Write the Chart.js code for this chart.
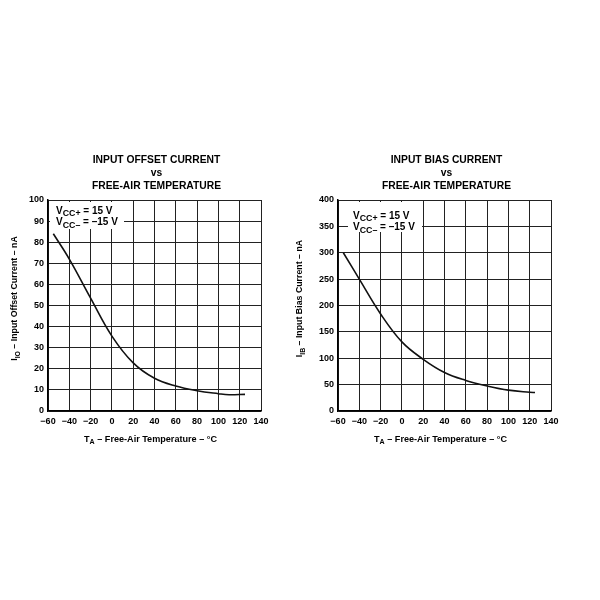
<!DOCTYPE html>
<html>
<head>
<meta charset="utf-8">
<script src="https://cdn.jsdelivr.net/npm/chart.js@4.4.1/dist/chart.umd.min.js"></script>
<style>
  body { margin: 0; background: #fff; }
  #wrap { position: relative; width: 600px; height: 600px; }
  .panel { position: absolute; top: 140px; width: 300px; height: 320px; }
</style>
</head>
<body>
<div id="wrap">
  <div class="panel" style="left:0"><canvas id="chart-offset" width="300" height="320"></canvas></div>
  <div class="panel" style="left:290px"><canvas id="chart-bias" width="300" height="320"></canvas></div>
</div>
<script>
// temperature axis (°C)
const tempTicks = [-60, -40, -20, 0, 20, 40, 60, 80, 100, 120, 140];

// input offset current, nA
const offsetTicks = [0, 10, 20, 30, 40, 50, 60, 70, 80, 90, 100];
const offsetTemps = [-55, -40, -20, 0, 20, 40, 60, 80, 100, 110, 125];
const offsetValues = [84, 72, 53.5, 35.5, 22.8, 15.5, 11.8, 9.6, 8.2, 7.7, 7.9];

// input bias current, nA
const biasTicks = [0, 50, 100, 150, 200, 250, 300, 350, 400];
const biasTemps = [-55, -40, -20, 0, 20, 40, 60, 80, 100, 120, 125];
const biasValues = [300, 250, 184, 131, 98, 73, 58, 47.5, 39.5, 35.5, 35];

const FONT = '"Liberation Sans", Arial, sans-serif';

function minus(v) {
  return v < 0 ? "\u2212" + Math.abs(v) : "" + v;
}

// draws text parts, [text, isSubscript]
function drawRich(ctx, parts, x, y, size, align, subScale = 0.78) {
  let total = 0;
  parts.forEach(([t, sub]) => {
    ctx.font = `bold ${sub ? size * subScale : size}px ${FONT}`;
    total += ctx.measureText(t).width;
  });
  let cx = align === "center" ? x - total / 2 : x;
  ctx.textAlign = "left";
  ctx.textBaseline = "middle";
  parts.forEach(([t, sub]) => {
    ctx.font = `bold ${sub ? size * subScale : size}px ${FONT}`;
    ctx.fillText(t, cx, sub ? y + 3 : y);
    cx += ctx.measureText(t).width;
  });
}

const notesPlugin = {
  id: "notes",
  beforeDatasetsDraw(chart, args, opts) {
    const { ctx, chartArea: a } = chart;
    ctx.save();
    // supply voltage note on a white patch
    ctx.fillStyle = "#fff";
    ctx.fillRect(a.left + opts.box[0], a.top + opts.box[1], opts.box[2], opts.box[3]);
    ctx.fillStyle = "#000";
    drawRich(ctx, [["V"], ["CC+", 1], [" = 15 V"]], a.left + opts.text[0], a.top + opts.text[1], 10, "left", 0.88);
    drawRich(ctx, [["V"], ["CC\u2013", 1], [" = \u201315 V"]], a.left + opts.text[0], a.top + opts.text[1] + 11.5, 10, "left", 0.88);
    // x title
    drawRich(ctx, [["T"], ["A", 1], [" \u2013 Free-Air Temperature \u2013 \u00B0C"]],
      (a.left + a.right) / 2 - 4, a.bottom + 28, 9.1, "center");
    // y title
    ctx.translate(opts.yTitleX, (a.top + a.bottom) / 2 - 7);
    ctx.rotate(-Math.PI / 2);
    drawRich(ctx, opts.yTitle, 0, 0, 8.8, "center");
    ctx.restore();
  },
};

function makeChart(id, titleLines, temps, values, yTicks, yTitle, notes) {
  const points = temps.map((t, i) => ({ x: t, y: values[i] }));
  const config = {
    type: "line",
    data: {
      datasets: [
        {
          data: points,
          borderColor: "#111",
          borderWidth: 1.6,
          pointRadius: 0,
          fill: false,
          tension: 0.4,
        },
      ],
    },
    options: {
      responsive: false,
      animation: false,
      layout: { padding: { left: 13, right: 0, top: 0, bottom: 0 } },
      plugins: {
        legend: { display: false },
        tooltip: { enabled: false },
        title: {
          display: true,
          text: titleLines,
          color: "#000",
          font: { family: FONT, size: 10.3, weight: "bold", lineHeight: 13 / 10.3 },
          padding: { top: 13.5, bottom: 7.5 },
        },
        notes: Object.assign({ yTitle: yTitle }, notes),
      },
      scales: {
        x: {
          type: "linear",
          min: tempTicks[0],
          max: tempTicks[tempTicks.length - 1],
          afterBuildTicks: (scale) => {
            scale.ticks = tempTicks.map((v) => ({ value: v }));
          },
          afterFit: (scale) => {
            scale.height = 49;
          },
          grid: { color: "#222", lineWidth: 1, drawTicks: false },
          border: { color: "#000", width: 1.5 },
          ticks: {
            autoSkip: false,
            maxRotation: 0,
            padding: 5,
            color: "#000",
            font: { family: FONT, size: 9, weight: "bold" },
            callback: (v) => minus(v),
          },
        },
        y: {
          min: yTicks[0],
          max: yTicks[yTicks.length - 1],
          afterBuildTicks: (scale) => {
            scale.ticks = yTicks.map((v) => ({ value: v }));
          },
          afterFit: (scale) => {
            scale.width = 35;
          },
          grid: { color: "#222", lineWidth: 1, drawTicks: false },
          border: { color: "#000", width: 1.5 },
          ticks: {
            padding: 4,
            color: "#000",
            font: { family: FONT, size: 9, weight: "bold" },
          },
        },
        // empty right axis, keeps room on the right
        yRight: {
          position: "right",
          display: true,
          afterFit: (scale) => {
            scale.width = 39;
          },
          grid: { display: false },
          border: { display: false },
          ticks: { display: false },
        },
      },
    },
    plugins: [notesPlugin],
  };
  new Chart(document.getElementById(id), config);
}

makeChart(
  "chart-offset",
  ["INPUT OFFSET CURRENT", "vs", "FREE-AIR TEMPERATURE"],
  offsetTemps,
  offsetValues,
  offsetTicks,
  [["I"], ["IO", 1], [" \u2013 Input Offset Current \u2013 nA"]],
  { box: [2, 2, 74, 27], text: [8, 11], yTitleX: 15 }
);

makeChart(
  "chart-bias",
  ["INPUT BIAS CURRENT", "vs", "FREE-AIR TEMPERATURE"],
  biasTemps,
  biasValues,
  biasTicks,
  [["I"], ["IB", 1], [" \u2013 Input Bias Current \u2013 nA"]],
  { box: [10, 2, 74, 30], text: [15, 16], yTitleX: 10 }
);
</script>
</body>
</html>
